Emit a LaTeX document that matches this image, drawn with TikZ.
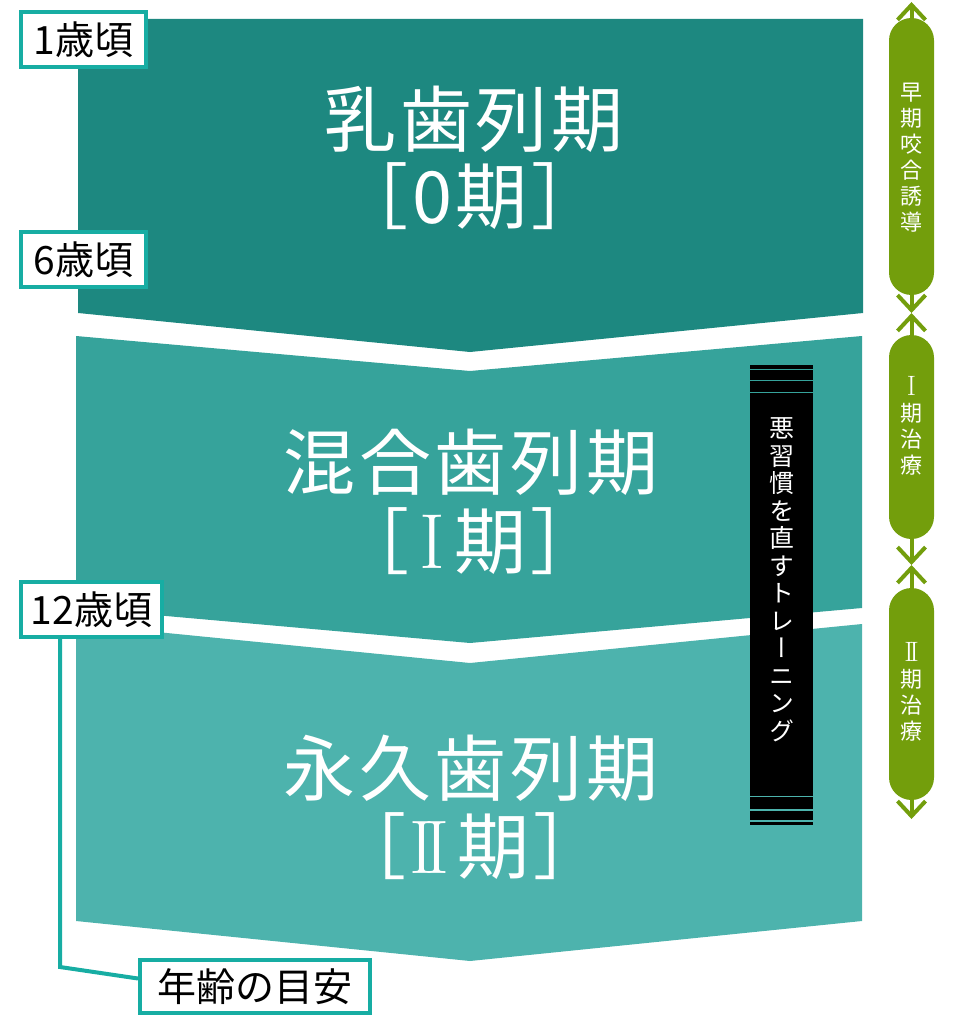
\documentclass[tikz,border=0pt]{standalone}
\usepackage{fontspec}
\usetikzlibrary{arrows.meta}
\newfontfamily\jp{Noto Sans CJK JP}
\newfontfamily\jpt[LetterSpace=5]{Noto Sans CJK JP}
\newfontfamily\vjp[RawFeature=+vert]{Noto Sans CJK JP}
\newcommand\romI[1]{{\rmfamily\fontsize{#1}{#1}\selectfont I}}
\newcommand\romII[2]{{\rmfamily\fontsize{#1}{#1}\selectfont I\kern-#2 I}}
\definecolor{tealA}{HTML}{1D8880}
\definecolor{tealB}{HTML}{36A39B}
\definecolor{tealC}{HTML}{4DB3AD}
\definecolor{frameC}{HTML}{17ADA3}
\definecolor{oliveG}{HTML}{739E0C}
\begin{document}
\begin{tikzpicture}[x=1pt,y=-1pt,
  agebox/.style={draw=frameC, line width=4pt, fill=white, inner sep=0pt, text=black,
    font=\jp\fontsize{39}{42}\selectfont},
  titletext/.style={text=white, inner sep=0pt, font=\jpt\fontsize{72}{80}\selectfont},
  pill/.style={fill=oliveG, rounded corners=22.5pt, minimum width=45pt, inner sep=0pt},
  pilltext/.style={text=white, align=center, inner sep=0pt, font=\jp\fontsize{22}{26}\selectfont},
  bartext/.style={text=white, align=center, inner sep=0pt, font=\vjp\fontsize{25}{27.5}\selectfont},
  garr/.style={oliveG, line width=4pt,
    {Straight Barb[length=15pt,width=28pt]}-{Straight Barb[length=15pt,width=28pt]}},
  barline/.style={line width=1.8pt},
  connector/.style={draw=frameC, line width=4pt}
]
\useasboundingbox (0,0) rectangle (960,1016);
% stage bands
\fill[tealA] (78,19) -- (863,19) -- (863,313) -- (470,352) -- (78,313) -- cycle;
\fill[tealB] (76,336) -- (470,371) -- (862,336) -- (862,608) -- (470,643) -- (76,608) -- cycle;
\fill[tealC] (76,624) -- (470,663) -- (862,624) -- (862,921) -- (470,961) -- (76,921) -- cycle;
% titles
\node[titletext] (t0) at (474,119) {乳歯列期};
\node[titletext] (t0b) at (470,196) {［0期］};
\node[titletext] (t1) at (471,462) {混合歯列期};
\node[titletext] (t1b) at (470,541) {［\kern10pt\romI{78}\kern10pt 期］};
\node[titletext] (t2) at (471,768) {永久歯列期};
\node[titletext] (t2b) at (470,846) {［\kern3pt\romII{76}{10pt}\kern8pt 期］};
% training bar
\fill[black] (750,365) rectangle (813,825);
\draw[barline, tealB] (750,369.5) -- (813,369.5);
\draw[barline, tealB] (750,380.5) -- (813,380.5);
\draw[barline, tealB] (750,392.5) -- (813,392.5);
\draw[barline, tealC] (750,796.5) -- (813,796.5);
\draw[barline, tealC] (750,810) -- (813,810);
\draw[barline, tealC] (750,821) -- (813,821);
\node[bartext] (training) at (781.5,580) {悪\\習\\慣\\を\\直\\す\\ト\\レ\\ー\\ニ\\ン\\グ};
% age labels
\node[agebox, minimum width=125pt, minimum height=55pt] (a1) at (83.5,39.5) {1歳頃};
\node[agebox, minimum width=125pt, minimum height=55pt] (a6) at (83.5,259.5) {6歳頃};
\node[agebox, minimum width=141pt, minimum height=55pt] (a12) at (91.5,609.5) {12歳頃};
\node[agebox, minimum width=230pt, minimum height=53pt] (guide) at (255,986.5) {年齢の目安};
\coordinate (elbow) at (60,967);
\draw[connector] (a12.south -| elbow) -- (elbow) -- ([yshift=8pt]guide.west);
% treatment arrows
\coordinate (gtop) at (911.5,2);
\coordinate (gx1) at (911.5,313);
\coordinate (gx2) at (911.5,565);
\coordinate (gbot) at (911.5,819);
\draw[garr] (gx1) -- (gtop);
\draw[garr] (gx1) -- (gx2);
\draw[garr] (gx2) -- (gbot);
\node[pill, minimum height=277pt] (p0) at (911.5,156.5) {};
\node[pill, minimum height=204pt] (p1) at (911.5,437) {};
\node[pill, minimum height=212pt] (p2) at (911.5,694) {};
\node[pilltext] (p0t) at (911.5,158) {早\\期\\咬\\合\\誘\\導};
\node[pilltext] (p1t) at (911.5,426) {\romI{28}\\期\\治\\療};
\node[pilltext] (p2t) at (911.5,692) {\romII{28}{4pt}\\期\\治\\療};
\end{tikzpicture}
\end{document}
